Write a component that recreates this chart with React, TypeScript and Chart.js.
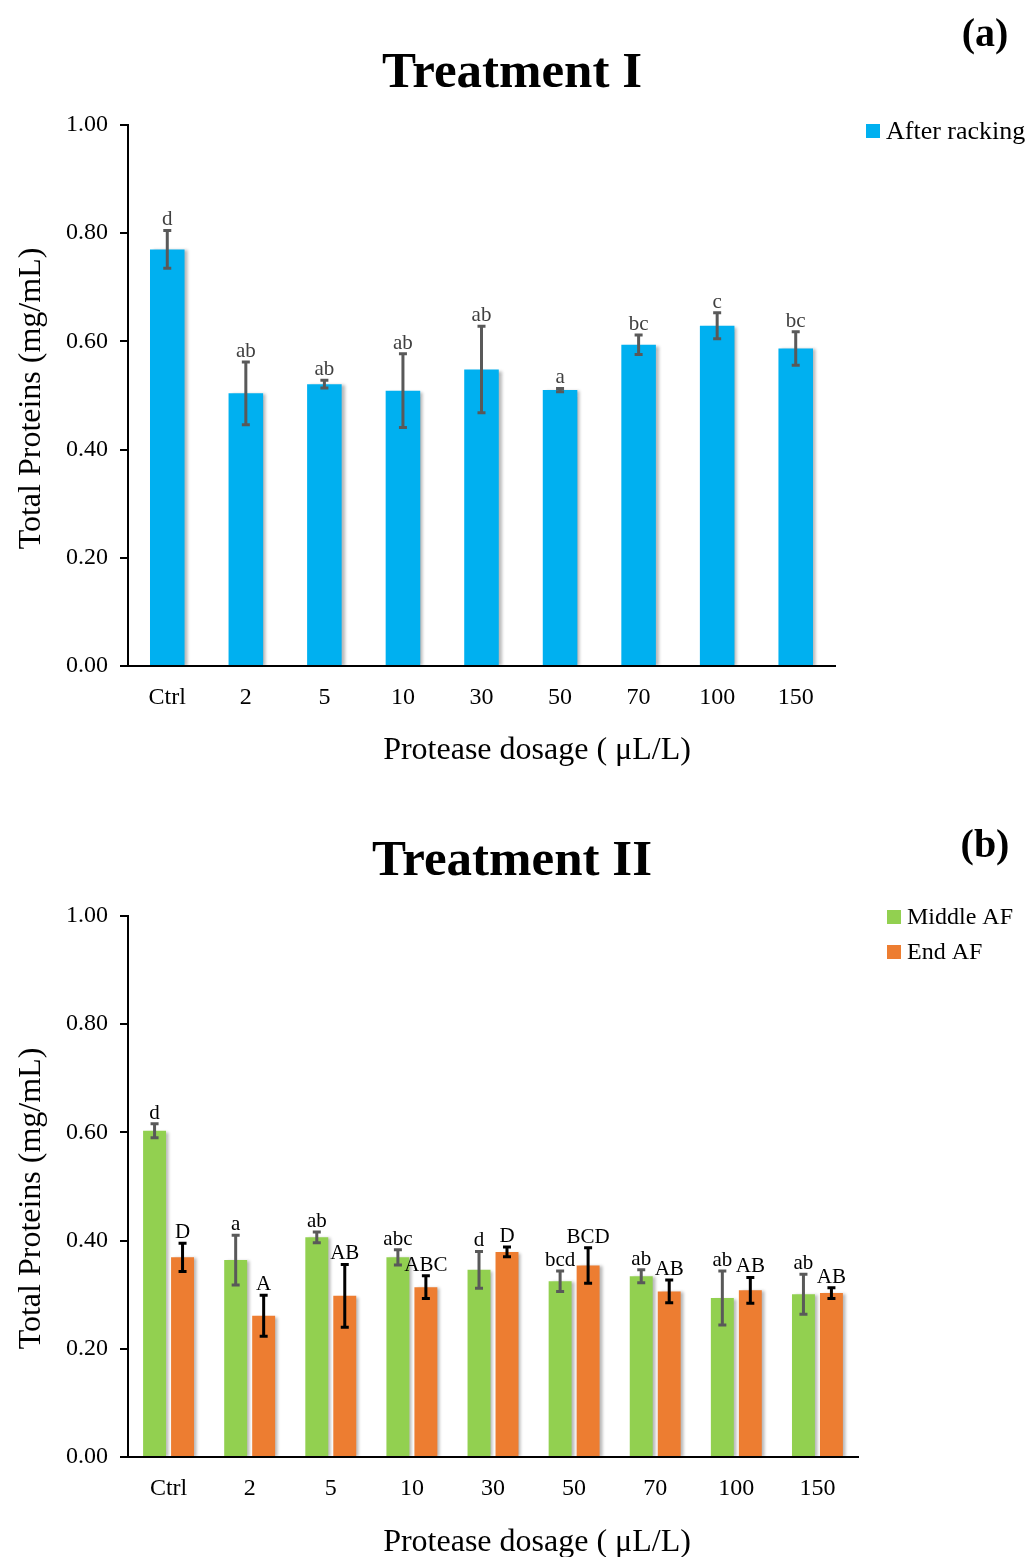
import React, { useEffect, useRef } from "react";
import { Chart, registerables } from "chart.js";

Chart.register(...registerables);

const categories = ["Ctrl", "2", "5", "10", "30", "50", "70", "100", "150"];
const yTicks = [0, 0.2, 0.4, 0.6, 0.8, 1.0];

const afterRacking = [0.770, 0.504, 0.521, 0.509, 0.548, 0.510, 0.594, 0.629, 0.587];
const afterRackingErr = [0.035, 0.058, 0.007, 0.068, 0.080, 0.003, 0.018, 0.024, 0.031];
const afterRackingLetters = ["d", "ab", "ab", "ab", "ab", "a", "bc", "c", "bc"];

const middleAF = [0.603, 0.364, 0.406, 0.369, 0.346, 0.325, 0.334, 0.294, 0.301];
const middleAFErr = [0.013, 0.046, 0.010, 0.014, 0.034, 0.019, 0.012, 0.050, 0.037];
const middleAFLetters = ["d", "a", "ab", "abc", "d", "bcd", "ab", "ab", "ab"];

const endAF = [0.369, 0.261, 0.298, 0.314, 0.379, 0.354, 0.306, 0.308, 0.303];
const endAFErr = [0.026, 0.038, 0.058, 0.021, 0.009, 0.033, 0.021, 0.024, 0.010];
const endAFLetters = ["D", "A", "AB", "ABC", "D", "BCD", "AB", "AB", "AB"];

const SERIF = "'Liberation Serif', 'Times New Roman', serif";
const W = 1027;

type Extra = {
  title: string;
  tag: string;
  titleBaseline: number;
  tagBaseline: number;
  legend: { label: string; color: string }[];
  legendX: number;
  legendY: number;
  legendGap: number;
  legendSize: number;
  errs: number[][];
  letters: string[][];
  errColors: string[];
  letterColor: string;
  letterSize: number;
  xTitleBaseline: number;
  yTitleShift: number;
};

function makePlugin(extra: Extra) {
  return {
    id: "extras",
    beforeDatasetsDraw(chart: any) {
      const ctx = chart.ctx;
      ctx.save();
      ctx.shadowColor = "rgba(0,0,0,0.28)";
      ctx.shadowOffsetX = 3;
      ctx.shadowOffsetY = 1;
      ctx.shadowBlur = 3;
    },
    afterDatasetsDraw(chart: any) {
      chart.ctx.restore();
    },
    afterDraw(chart: any) {
      const ctx = chart.ctx;
      const yScale = chart.scales.y;
      const area = chart.chartArea;
      ctx.save();
      // error bars + letters
      chart.data.datasets.forEach((ds: any, di: number) => {
        const meta = chart.getDatasetMeta(di);
        meta.data.forEach((bar: any, i: number) => {
          const v = ds.data[i];
          const e = extra.errs[di][i];
          const x = bar.x;
          const yt = yScale.getPixelForValue(v + e);
          const yb = yScale.getPixelForValue(v - e);
          ctx.strokeStyle = extra.errColors[di];
          ctx.lineWidth = 3;
          ctx.beginPath();
          ctx.moveTo(x, yt);
          ctx.lineTo(x, yb);
          ctx.moveTo(x - 4, yt);
          ctx.lineTo(x + 4, yt);
          ctx.moveTo(x - 4, yb);
          ctx.lineTo(x + 4, yb);
          ctx.stroke();
          ctx.fillStyle = extra.letterColor;
          ctx.font = `${extra.letterSize}px ${SERIF}`;
          ctx.textAlign = "center";
          ctx.textBaseline = "alphabetic";
          ctx.fillText(extra.letters[di][i], x, yt - 5);
        });
      });
      // title
      ctx.fillStyle = "#000";
      ctx.font = `bold 51px ${SERIF}`;
      ctx.textAlign = "center";
      ctx.textBaseline = "alphabetic";
      ctx.fillText(extra.title, 512, extra.titleBaseline);
      ctx.font = `bold 40px ${SERIF}`;
      ctx.fillText(extra.tag, 985, extra.tagBaseline);
      // axis titles
      ctx.font = `32px ${SERIF}`;
      ctx.fillText("Protease dosage ( μL/L)", 537, extra.xTitleBaseline);
      ctx.save();
      ctx.translate(40, (area.top + area.bottom) / 2 + extra.yTitleShift);
      ctx.rotate(-Math.PI / 2);
      ctx.fillText("Total Proteins (mg/mL)", 0, 0);
      ctx.restore();
      // legend
      ctx.font = `${extra.legendSize}px ${SERIF}`;
      ctx.textAlign = "left";
      ctx.textBaseline = "middle";
      extra.legend.forEach((it, k) => {
        const cy = extra.legendY + k * extra.legendGap;
        ctx.fillStyle = it.color;
        ctx.fillRect(extra.legendX, cy - 7, 14, 14);
        ctx.fillStyle = "#000";
        ctx.fillText(it.label, extra.legendX + 20, cy + 1);
      });
      ctx.restore();
    },
  };
}

function baseOptions(padTop: number, padRight: number, padBottom: number, catPct: number, barPct: number) {
  return {
    responsive: false,
    animation: false,
    events: [],
    layout: { padding: { left: 0, top: padTop, right: padRight, bottom: padBottom } },
    plugins: { legend: { display: false }, title: { display: false }, tooltip: { enabled: false } },
    datasets: { bar: { categoryPercentage: catPct, barPercentage: barPct } },
    scales: {
      x: {
        type: "category",
        offset: true,
        grid: { display: false, drawTicks: false },
        border: { display: true, color: "#000", width: 2 },
        ticks: { color: "#000", font: { family: SERIF, size: 24 }, padding: 17, maxRotation: 0 },
        afterFit: (s: any) => {
          s.height = 40;
        },
      },
      y: {
        min: 0,
        max: 1,
        afterBuildTicks: (s: any) => {
          s.ticks = yTicks.map((v) => ({ value: v }));
        },
        grid: { display: true, drawOnChartArea: false, drawTicks: true, tickLength: 8, color: "#000", lineWidth: 2 },
        border: { display: true, color: "#000", width: 2 },
        ticks: {
          color: "#000",
          font: { family: SERIF, size: 24 },
          padding: 12,
          callback: (v: any) => Number(v).toFixed(2),
        },
        afterFit: (s: any) => {
          s.width = 128;
        },
      },
    },
  };
}

function TopChart() {
  const ref = useRef<HTMLCanvasElement>(null);
  useEffect(() => {
    const H = 790;
    const chart = new Chart(ref.current as HTMLCanvasElement, {
      type: "bar",
      data: {
        labels: categories,
        datasets: [{ label: "After racking", data: afterRacking, backgroundColor: "#00B0F0", borderWidth: 0 }],
      },
      options: baseOptions(125, W - 835, H - 666 - 40, 1, 0.44) as any,
      plugins: [
        makePlugin({
          title: "Treatment I",
          tag: "(a)",
          titleBaseline: 87,
          tagBaseline: 46,
          legend: [{ label: "After racking", color: "#00B0F0" }],
          legendX: 866,
          legendY: 131,
          legendGap: 35,
          legendSize: 26,
          errs: [afterRackingErr],
          letters: [afterRackingLetters],
          errColors: ["#595959"],
          letterColor: "#404040",
          letterSize: 21,
          xTitleBaseline: 759,
          yTitleShift: 3,
        }),
      ],
    });
    return () => chart.destroy();
  }, []);
  return <canvas ref={ref} width={W} height={790} style={{ position: "absolute", left: 0, top: 0 }} />;
}

function BottomChart() {
  const ref = useRef<HTMLCanvasElement>(null);
  useEffect(() => {
    const OFF = 790;
    const H = 767;
    const chart = new Chart(ref.current as HTMLCanvasElement, {
      type: "bar",
      data: {
        labels: categories,
        datasets: [
          { label: "Middle AF", data: middleAF, backgroundColor: "#92D050", borderWidth: 0 },
          { label: "End AF", data: endAF, backgroundColor: "#ED7D31", borderWidth: 0 },
        ],
      },
      options: baseOptions(916 - OFF, W - 858, H - (1457 - OFF) - 40, 0.69, 0.82) as any,
      plugins: [
        makePlugin({
          title: "Treatment II",
          tag: "(b)",
          titleBaseline: 875 - OFF,
          tagBaseline: 857 - OFF,
          legend: [
            { label: "Middle AF", color: "#92D050" },
            { label: "End AF", color: "#ED7D31" },
          ],
          legendX: 887,
          legendY: 917 - OFF,
          legendGap: 35,
          legendSize: 24,
          errs: [middleAFErr, endAFErr],
          letters: [middleAFLetters, endAFLetters],
          errColors: ["#595959", "#000000"],
          letterColor: "#000",
          letterSize: 21,
          xTitleBaseline: 1551 - OFF,
          yTitleShift: 12,
        }),
      ],
    });
    return () => chart.destroy();
  }, []);
  return <canvas ref={ref} width={W} height={767} style={{ position: "absolute", left: 0, top: 790 }} />;
}

export default function App() {
  return (
    <div style={{ position: "absolute", left: 0, top: 0, width: W, height: 1557, background: "#fff", overflow: "hidden" }}>
      <TopChart />
      <BottomChart />
    </div>
  );
}
